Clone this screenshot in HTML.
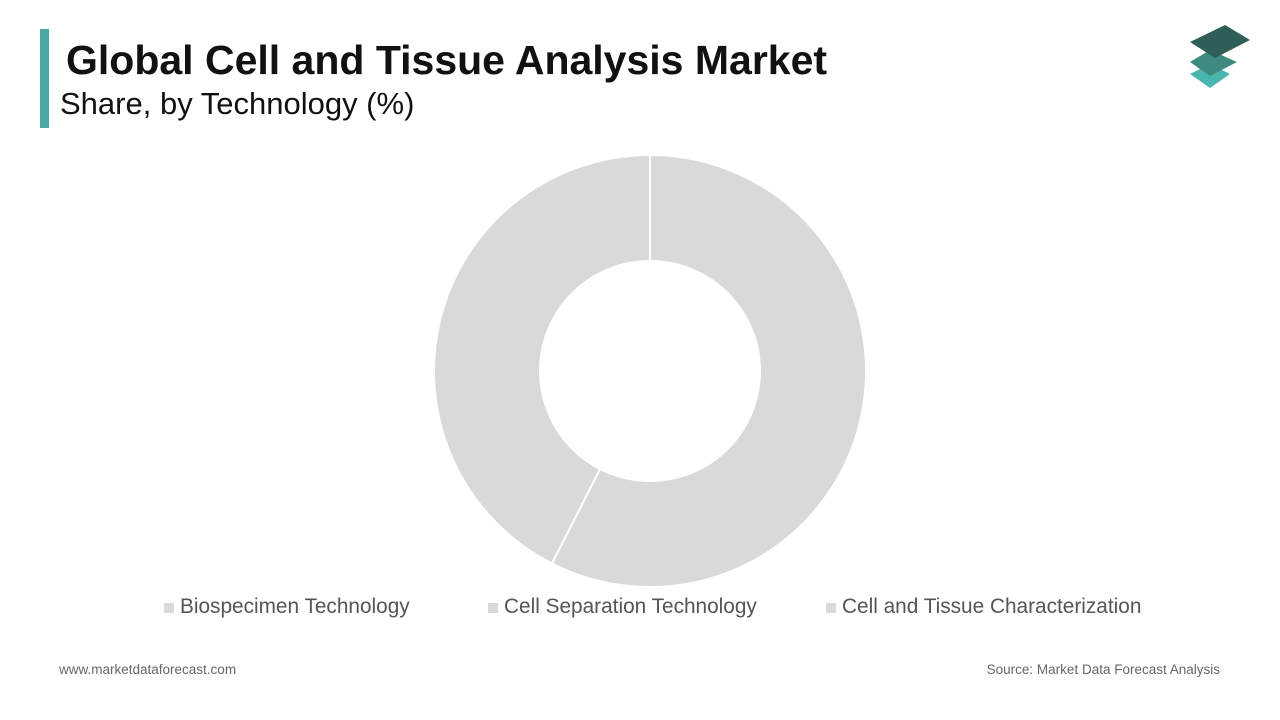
<!DOCTYPE html>
<html><head><meta charset="utf-8">
<style>
body{margin:0;width:1280px;height:720px;background:#fff;font-family:"Liberation Sans",sans-serif;position:relative;overflow:hidden}
.t{position:absolute;left:66px;top:37px;font-size:41px;font-weight:bold;color:#111;letter-spacing:0px}
.s{position:absolute;left:60px;top:86px;font-size:31px;color:#111}
.bar{position:absolute;left:40px;top:29px;width:9px;height:99px;background:#4aa8a4}
.lg{position:absolute;top:595px;font-size:20.8px;color:#555;display:flex;align-items:center}
.lg i{display:inline-block;width:10px;height:10px;background:#d9d9d9;margin-right:6px;margin-top:2px}
.f{position:absolute;top:662px;font-size:13.5px;color:#666}
</style></head><body>
<div class="bar"></div>
<div class="t">Global Cell and Tissue Analysis Market</div>
<div class="s">Share, by Technology (%)</div>
<svg style="position:absolute;left:1185px;top:22px" width="70" height="70">
<polygon points="5,52 25,42 45,52 25,66" fill="#4ab5ae"/>
<polygon points="5,40 25,28 52,40 25,54" fill="#3f8a80"/>
<polygon points="5,20 40,3 65,18 30,36" fill="#2e5e57"/>
</svg>
<svg id="c" width="1280" height="720" style="position:absolute;left:0;top:0"></svg>
<div class="lg" style="left:164px"><i></i>Biospecimen Technology</div>
<div class="lg" style="left:488px"><i></i>Cell Separation Technology</div>
<div class="lg" style="left:826px"><i></i>Cell and Tissue Characterization</div>
<div class="f" style="left:59px">www.marketdataforecast.com</div>
<div class="f" style="right:60px">Source: Market Data Forecast Analysis</div>
<script>
const categories=["Biospecimen Technology","Cell Separation Technology","Cell and Tissue Characterization"];
const values=[57.5,42.5,0];
const svg=document.getElementById('c');
const cx=650,cy=371,R=216,r=110;
const total=values.reduce((a,b)=>a+b,0);
let a0=0;
function pt(rad,a){return [cx+rad*Math.sin(a),cy-rad*Math.cos(a)];}
values.forEach((v,i)=>{
 if(v<=0)return;
 const a1=a0+v/total*2*Math.PI;
 const big=(a1-a0)>Math.PI?1:0;
 const [x1,y1]=pt(R,a0),[x2,y2]=pt(R,a1),[x3,y3]=pt(r,a1),[x4,y4]=pt(r,a0);
 const p=document.createElementNS('http://www.w3.org/2000/svg','path');
 p.setAttribute('d',`M${x1},${y1}A${R},${R} 0 ${big} 1 ${x2},${y2}L${x3},${y3}A${r},${r} 0 ${big} 0 ${x4},${y4}Z`);
 p.setAttribute('fill','#d9d9d9');p.setAttribute('stroke','#fff');p.setAttribute('stroke-width','2');
 
 
 svg.appendChild(p);
 a0=a1;
});
</script>
</body></html>
